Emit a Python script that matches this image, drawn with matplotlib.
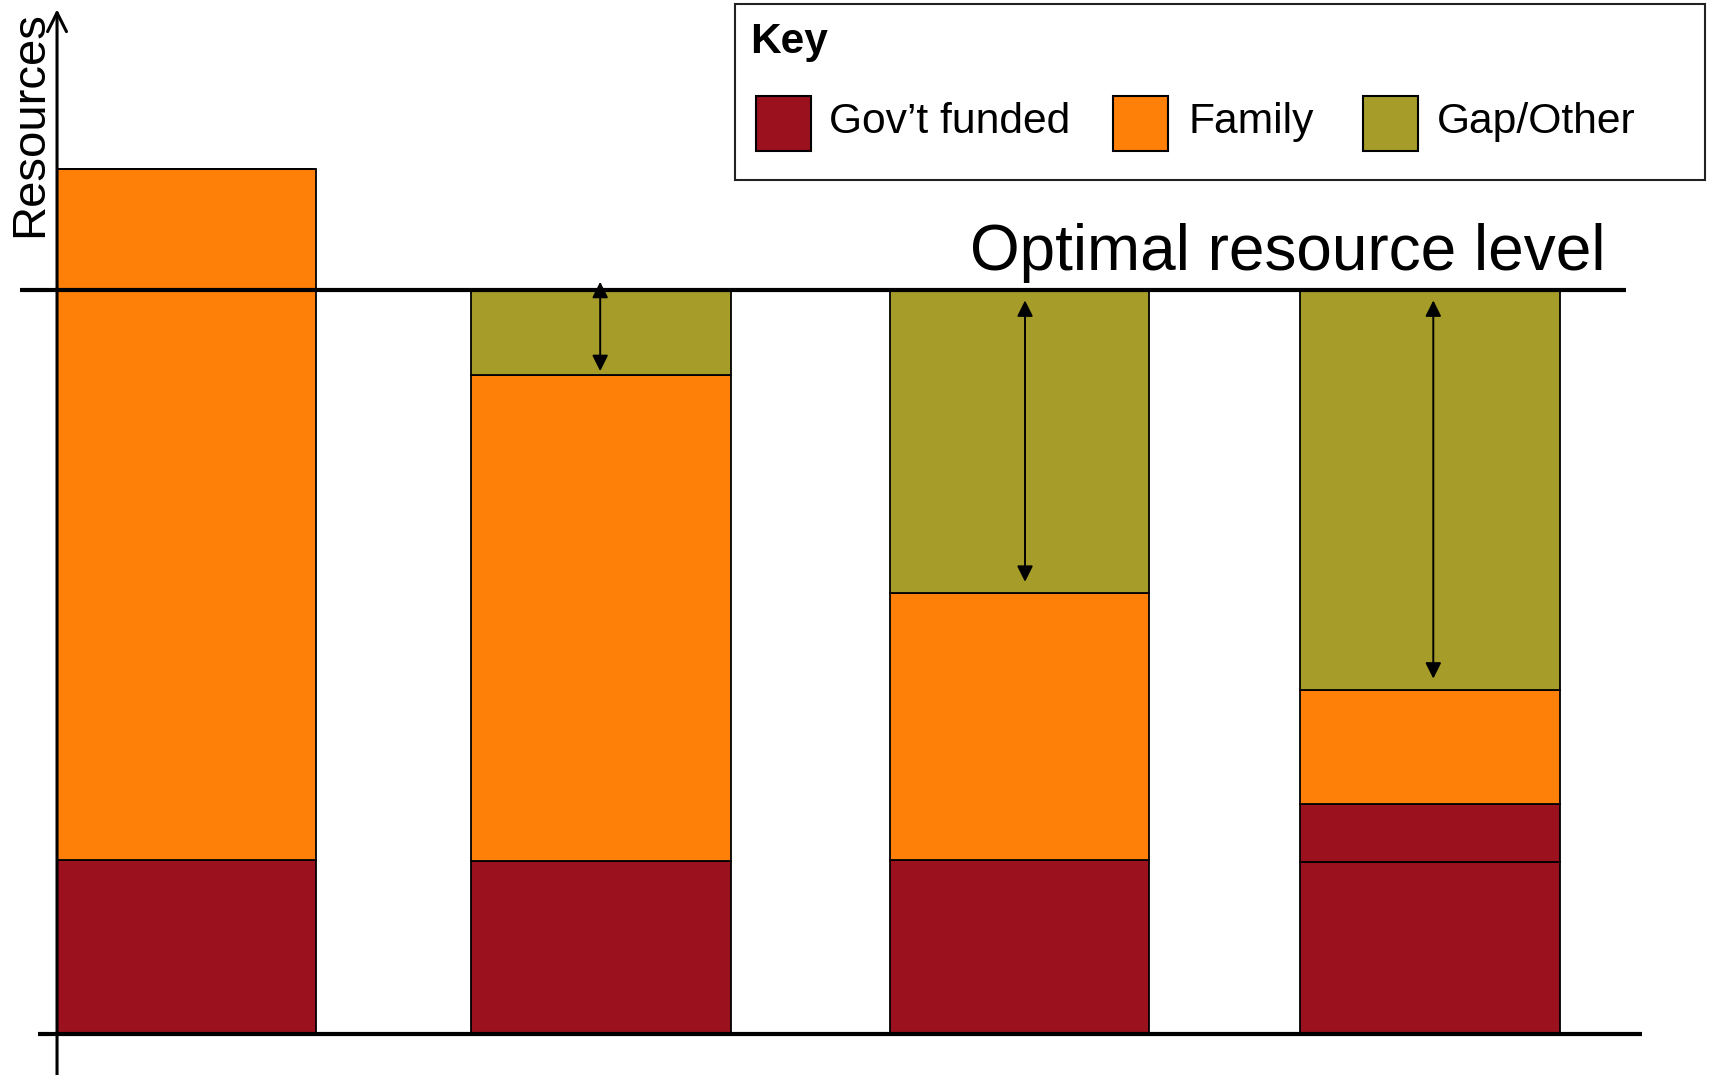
import matplotlib.pyplot as plt
from matplotlib.patches import Rectangle

plt.rcParams['font.family'] = ['Liberation Sans', 'DejaVu Sans']

# ---------------- data (optimal level = 100) ----------------
scenarios = ['A', 'B', 'C', 'D']
gov_base = [23.4, 23.3, 23.4, 23.2]
gov_extra = [0.0, 0.0, 0.0, 7.7]
family = [92.8, 65.3, 35.9, 15.4]
optimal_level = 100.0
series_labels = ["Gov\u2019t funded", 'Family', 'Gap/Other']

# ---------------- style ----------------
red = '#9B111E'
orange = '#FF8008'
olive = '#A59C2A'
bar_width = 0.625
bar_pos = [0.0, 1.0, 2.01, 3.0]
arrow_shift = [0.0, -0.002, 0.013, 0.008]

fig = plt.figure(figsize=(17.11, 10.75), dpi=100)
ax = fig.add_axes([0, 0, 1, 1])
ax.set_xlim(-0.45, 3.678)
ax.set_ylim(-5.44, 138.95)
ax.set_axis_off()

edge = dict(edgecolor='black', linewidth=1.3)

ax.bar(bar_pos, gov_base, bar_width, color=red, **edge, zorder=2)
for xi, gb, ge in zip(bar_pos, gov_base, gov_extra):
    if ge > 0:
        ax.bar(xi, ge, bar_width, bottom=gb, color=red, **edge, zorder=2)
bottoms = [gb + ge for gb, ge in zip(gov_base, gov_extra)]
ax.bar(bar_pos, family, bar_width, bottom=bottoms, color=orange, **edge, zorder=2)

# gap up to the optimal level
tops = [b + f for b, f in zip(bottoms, family)]
gaps = [max(optimal_level - t, 0) for t in tops]
ax.bar(bar_pos, gaps, bar_width, bottom=tops, color=olive, **edge, zorder=2)

# double-headed arrows showing the gap
for xi, dx, t, g in zip(bar_pos, arrow_shift, tops, gaps):
    if g <= 0:
        continue
    if g < 15:
        y_top, y_bot = optimal_level + 1.1, t + 0.5
    else:
        y_top, y_bot = optimal_level - 1.4, t + 1.5
    ax.annotate('', xy=(xi + dx, y_top), xytext=(xi + dx, y_bot),
                arrowprops=dict(arrowstyle='<|-|>', color='black', lw=1.4,
                                mutation_scale=24, shrinkA=0, shrinkB=0),
                zorder=4)

# optimal resource level line
ax.plot([-0.402, 3.473], [optimal_level, optimal_level], color='black', lw=3.0,
        solid_capstyle='butt', zorder=3)
ax.text(3.4246, 102.75, 'Optimal resource level', fontsize=46,
        ha='right', va='baseline')

# axes
ax.plot([-0.3585, 3.511], [0, 0], color='black', lw=3.0, solid_capstyle='butt', zorder=3)
ax.annotate('', xy=(-0.3124, 137.7), xytext=(-0.3124, -5.44),
            arrowprops=dict(arrowstyle='->', color='black', lw=2.2,
                            mutation_scale=34, shrinkA=0, shrinkB=0),
            zorder=3)
fig.text(30 / 1711, 1 - 124 / 1075, 'Resources', fontsize=34, rotation=90,
         ha='center', va='center')

# key box
fig.patches.append(Rectangle((735 / 1711, 1 - 180 / 1075), 970 / 1711, 176 / 1075,
                             transform=fig.transFigure, facecolor='white',
                             edgecolor='#222222', linewidth=1.5))
fig.text(750 / 1711, 1 - 42 / 1075, 'Key', fontsize=30.5, fontweight='bold',
         ha='left', va='center')
patch_x = [756, 1113, 1363]
label_x = [829, 1188, 1437]
for px, lx, col, lab in zip(patch_x, label_x, [red, orange, olive], series_labels):
    fig.patches.append(Rectangle((px / 1711, 1 - 151 / 1075), 55 / 1711, 55 / 1075,
                                 transform=fig.transFigure, facecolor=col,
                                 edgecolor='black', linewidth=1.5))
    fig.text(lx / 1711, 1 - 122 / 1075, lab, fontsize=30.7, ha='left', va='center')

fig.savefig('out.png', dpi=100, facecolor='white')
